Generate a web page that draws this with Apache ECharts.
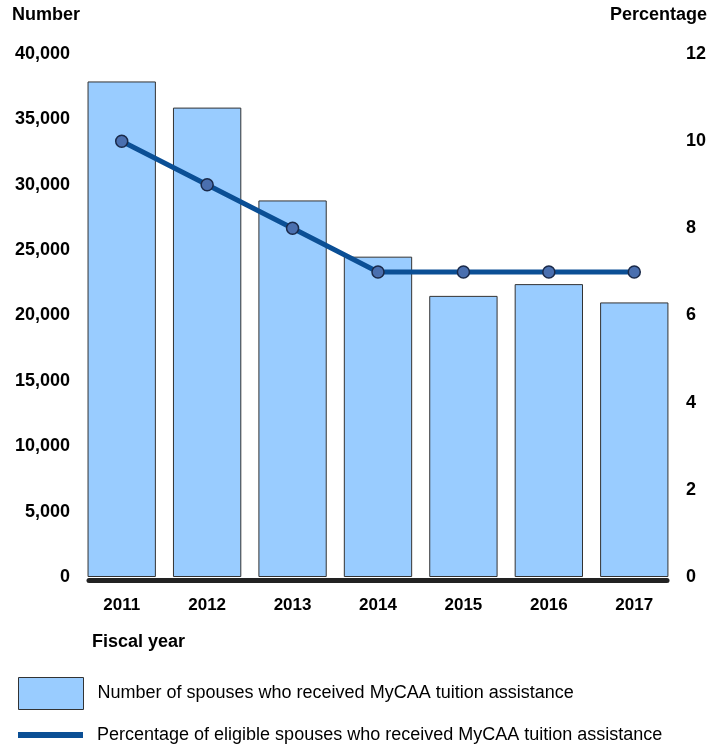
<!DOCTYPE html>
<html>
<head>
<meta charset="utf-8">
<style>
html,body{margin:0;padding:0;background:#fff;}
#chart{width:709px;height:744px;}
</style>
<script src="https://cdn.jsdelivr.net/npm/echarts@6/dist/echarts.min.js"></script>
</head>
<body>
<div id="chart"></div>
<script>
var categories = ['2011', '2012', '2013', '2014', '2015', '2016', '2017'];
var spouses = [37900, 35900, 28800, 24500, 21500, 22400, 21000];
var percentage = [10, 9, 8, 7, 7, 7, 7];
var barName = 'Number of spouses who received MyCAA tuition assistance';
var lineName = 'Percentage of eligible spouses who received MyCAA tuition assistance';

var FONT = 'Liberation Sans, Arial, sans-serif';
var chart = echarts.init(document.getElementById('chart'));
var option = {
  animation: false,
  backgroundColor: '#fff',
  textStyle: { fontFamily: FONT },
  grid: [
    { left: 79, right: 32, top: 54, bottom: 167 },
    { left: 89, right: 42, top: 54, bottom: 164 }
  ],
  graphic: [
    { type: 'text', left: 12, top: 6, style: { text: 'Number', font: 'bold 18px ' + FONT, fill: '#000' } },
    { type: 'text', right: 2, top: 6, style: { text: 'Percentage', font: 'bold 18px ' + FONT, fill: '#000' } },
    { type: 'text', left: 92, top: 633, style: { text: 'Fiscal year', font: 'bold 18px ' + FONT, fill: '#000' } }
  ],
  legend: [
    {
      left: 18, top: 677, padding: 0, itemWidth: 65, itemHeight: 32, orient: 'vertical',
      data: [{ name: barName, icon: 'rect', itemStyle: { color: '#99ccff', borderColor: '#333', borderWidth: 1 } }],
      textStyle: { fontSize: 18, color: '#000', fontFamily: FONT, padding: [4, 0, 0, 9] }
    },
    {
      left: 18, top: 725, padding: 0, itemWidth: 65, itemHeight: 6, orient: 'vertical',
      data: [{ name: lineName, icon: 'rect', itemStyle: { color: '#0b4f95', borderWidth: 0 } }],
      textStyle: { fontSize: 18, color: '#000', fontFamily: FONT, padding: [0, 0, 0, 9], lineHeight: 20 }
    }
  ],
  xAxis: [
    {
      type: 'category', gridIndex: 0, data: categories,
      axisLine: { show: false }, axisTick: { show: false },
      axisLabel: { fontSize: 17, fontWeight: 'bold', color: '#000', margin: 20, fontFamily: FONT }
    },
    {
      type: 'value', gridIndex: 1, min: 0, max: 1,
      axisLine: { show: true, lineStyle: { color: '#222', width: 5 } },
      axisTick: { show: false }, axisLabel: { show: false }, splitLine: { show: false }
    }
  ],
  yAxis: [
    {
      type: 'value', gridIndex: 0, min: 0, max: 40000, interval: 5000,
      axisLine: { show: false }, axisTick: { show: false }, splitLine: { show: false },
      axisLabel: {
        fontSize: 18, fontWeight: 'bold', color: '#000', margin: 9, fontFamily: FONT,
        formatter: function (v) { return v.toLocaleString('en-US'); }
      }
    },
    {
      type: 'value', gridIndex: 0, min: 0, max: 12, interval: 2, position: 'right',
      axisLine: { show: false }, axisTick: { show: false }, splitLine: { show: false },
      axisLabel: { fontSize: 18, fontWeight: 'bold', color: '#000', margin: 9, fontFamily: FONT }
    },
    {
      type: 'value', gridIndex: 1, min: 0, max: 1, show: false
    }
  ],
  series: [
    {
      name: barName, type: 'bar', xAxisIndex: 0, yAxisIndex: 0,
      data: spouses, barCategoryGap: '20%',
      itemStyle: { color: '#99ccff', borderColor: '#333', borderWidth: 1 }
    },
    {
      name: lineName, type: 'line', xAxisIndex: 0, yAxisIndex: 1,
      data: percentage, symbol: 'circle', symbolSize: 12,
      lineStyle: { color: '#0b4f95', width: 5 },
      itemStyle: { color: '#4a6faf', borderColor: '#1a2a4a', borderWidth: 1.5 },
      z: 5
    }
  ]
};
chart.setOption(option);
</script>
</body>
</html>
